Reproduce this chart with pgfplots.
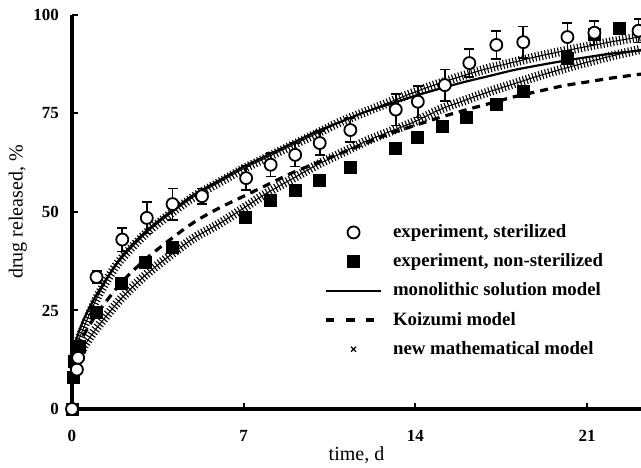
\documentclass[border=0pt]{standalone}
\usepackage{pgfplots}
\pgfplotsset{compat=1.18}
\usepackage{pgfplotstable}
\usepackage{fontspec}
\setmainfont{Liberation Serif}
\usetikzlibrary{calc}

% experiment, sterilized: t, value, error
\pgfplotstableread{
t v e
0 0 0
0.2 10 0
0.25 13 0
1.0 33.5 1.5
2.05 43 3
3.05 48.5 4
4.1 52 4
5.3 54 2
7.1 58.6 3
8.1 62 3
9.1 64.5 3
10.1 67.5 3
11.35 70.8 3
13.2 76 4
14.1 78 4
15.2 82.2 4
16.2 87.8 3.5
17.3 92.4 3.5
18.4 93.1 4
20.2 94.4 3.5
21.3 95.5 3
23.1 96 3
}\sterile

% experiment, non-sterilized
\pgfplotstableread{
t v
0 0
0.05 8
0.1 12
0.3 16
1.0 24.6
2.0 32
3.0 37.3
4.1 41
7.06 48.7
8.1 53
9.1 55.5
10.1 58
11.35 61.4
13.2 66.2
14.1 69
15.1 71.6
16.1 74.1
17.3 77.2
18.4 80.5
20.2 89
21.3 95
22.3 96.7
}\nonsterile

% monolithic solution model
\pgfplotstableread{
t v
0 14
0.25 19
0.5 23
1 29
2 38.5
3 45
4 50
5 54.5
6 58
7 61.5
8 64.5
9 67.5
10 70.5
11 73
12 75.5
13 77.5
14 79.5
15 81.3
16 83
17 84.5
18 86
19 87.2
20 88.3
21 89.3
22 90.2
23.2 91
}\mono

% Koizumi model
\pgfplotstableread{
t v
0 12
0.25 16
0.5 19
1 24
2 32
3 38
4 43
5 47.5
6 51
7 54
8 57
9 60
10 62.5
11 65
12 67.5
13 70
14 72
15 74
16 75.8
17 77.5
18 79.2
19 80.6
20 82
21 83
22 84
23.2 85
}\koizumi

% new mathematical model, sterilized
\pgfplotstableread{
t v
0 12
0.25 17
0.5 21
1 28
1.5 33.5
2 38
3 44.5
4 49.5
5 54
6 57.5
7 61
8 64
9 67
10 70
11 73
12 75.5
13 78
14 80.5
15 82.7
16 84.7
17 86.5
18 88
19 89.5
20 90.8
21 92
22 93.2
23.2 94.5
}\newS

% new mathematical model, non-sterilized
\pgfplotstableread{
t v
0 10
0.25 13
0.5 16
1 20.5
2 28
3 34
4 39
5 43.5
6 47
7 51
8 55
9 58.5
10 62
11 65
12 68
13 70.5
14 73
15 76
16 78.3
17 80.5
18 82.5
19 84.5
20 86.3
21 88
22 89.6
23.2 91.3
}\newN

\begin{document}
\begin{tikzpicture}
\begin{axis}[
  scale only axis,
  width=284.5pt, height=197pt,
  xmin=0, xmax=23.2, ymin=0, ymax=100,
  axis x line=bottom, axis y line=left,
  axis line style={line width=2pt, -},
  xtick={0,7,14,21}, ytick={0,25,50,75,100},
  tick align=inside, major tick length=3pt,
  tick style={line width=1pt, black},
  /pgf/number format/assume math mode=true,
  ticklabel style={font=\fontsize{8.5}{10}\selectfont\bfseries},
  xticklabel style={yshift=-7pt},
  yticklabel style={xshift=-3pt},
  xlabel={time, d}, ylabel={drug released, \%},
  label style={font=\fontsize{10.5}{12}\selectfont},
  every axis x label/.style={at={(axis description cs:0.5,-0.117)}, anchor=center},
  every axis y label/.style={at={(axis description cs:-0.095,0.5)}, anchor=center, rotate=90},
  clip=false,
  legend image code/.code={\draw[mark repeat=2,mark phase=2,#1] plot coordinates {(0pt,0pt)(13.75pt,0pt)(27.5pt,0pt)};},
  legend style={draw=none, fill=none, at={(axis description cs:0.443,0.472)}, anchor=north west,
    inner sep=0pt, row sep=5.6pt,
    font=\fontsize{9.4}{11}\selectfont\bfseries,
    nodes={inner sep=0pt, text height=7pt, text depth=2pt},
    /tikz/every odd column/.append style={column sep=5.2pt}},
  legend cell align=left,
]
\addlegendimage{only marks, mark=*, mark size=3pt, mark options={fill=white, draw=black, line width=0.9pt}}
\addlegendentry{experiment, sterilized}
\addlegendimage{only marks, mark=square*, mark size=3pt, mark options={fill=black, draw=black}}
\addlegendentry{experiment, non-sterilized}
\addlegendimage{black, line width=1.1pt}
\addlegendentry{monolithic solution model}
\addlegendimage{black, line width=1.6pt, dash pattern=on 4pt off 6pt}
\addlegendentry{Koizumi model}
\addlegendimage{only marks, mark=x, mark size=1.8pt, mark options={line width=0.6pt}}
\addlegendentry{new mathematical model}

% new mathematical model bands
\addplot[black, line width=4.6pt, smooth, dash pattern=on 0.55pt off 1.1pt, forget plot] table[x=t,y=v] {\newS};
\addplot[black, line width=0.5pt, smooth, forget plot] table[x=t,y=v] {\newS};
\addplot[black, line width=4.6pt, smooth, dash pattern=on 0.55pt off 1.1pt, forget plot] table[x=t,y=v] {\newN};
\addplot[black, line width=0.5pt, smooth, forget plot] table[x=t,y=v] {\newN};
% monolithic
\addplot[black, line width=1.1pt, smooth, forget plot] table[x=t,y=v] {\mono};
% Koizumi
\addplot[black, line width=1.6pt, smooth, dash pattern=on 4pt off 3pt, forget plot] table[x=t,y=v] {\koizumi};
% experiments
\addplot[only marks, mark=square*, mark size=3pt, mark options={fill=black, draw=black}, forget plot] table[x=t,y=v] {\nonsterile};
\addplot[only marks, mark=*, mark size=3pt, mark options={fill=white, draw=black, line width=0.9pt}, forget plot,
  error bars/.cd, y dir=both, y explicit,
  error bar style={line width=0.8pt, black},
  error mark options={rotate=90, mark size=2.5pt, line width=0.8pt, black}]
  table[x=t,y=v,y error=e] {\sterile};

\coordinate (bl) at (rel axis cs:0,0);
\coordinate (tr) at (rel axis cs:1,1);
\end{axis}
\pgfresetboundingbox
\path ($(bl)+(-36pt,-29.5pt)$) rectangle ($(tr)+(0pt,7.5pt)$);
\end{tikzpicture}
\end{document}
